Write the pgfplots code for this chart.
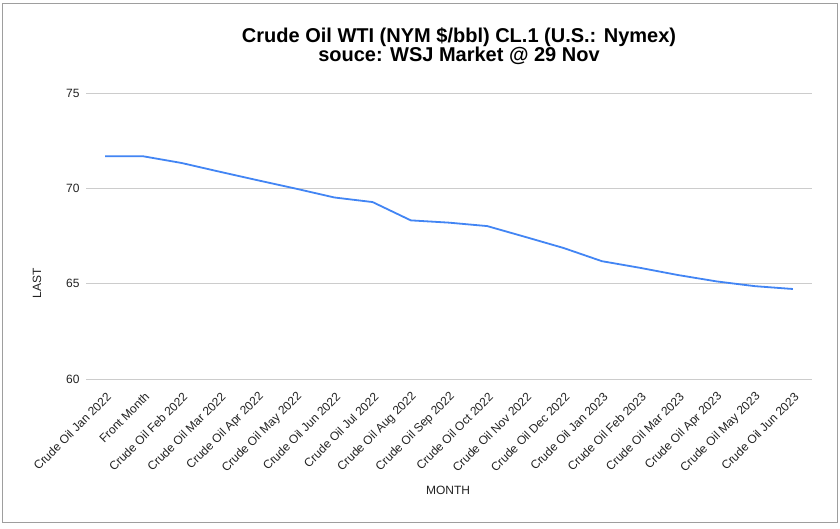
\documentclass[border=0pt]{standalone}
\usepackage{pgfplots}
\pgfplotsset{compat=1.18}
\usepackage{fontspec}
\setmainfont{Liberation Sans}
\definecolor{gblue}{HTML}{4285F4}
\definecolor{gridc}{HTML}{CCCCCC}
\definecolor{framec}{HTML}{9E9E9E}
\definecolor{labc}{HTML}{222222}
\begin{document}
\begin{tikzpicture}[x=1pt,y=1pt]
\path[fill=white] (0,0) rectangle (840,528);
\draw[color=framec, line width=1pt] (2.5,6) rectangle (837.5,524.5);
\begin{axis}[
  at={(86pt,149pt)}, anchor=south west,
  scale only axis, width=726pt, height=286pt,
  xmin=-0.5, xmax=18.5, ymin=60, ymax=75,
  ytick={60,65,70,75},
  xtick={0,...,18},
  xticklabels={Crude Oil Jan 2022, Front Month, Crude Oil Feb 2022, Crude Oil Mar 2022, Crude Oil Apr 2022, Crude Oil May 2022, Crude Oil Jun 2022, Crude Oil Jul 2022, Crude Oil Aug 2022, Crude Oil Sep 2022, Crude Oil Oct 2022, Crude Oil Nov 2022, Crude Oil Dec 2022, Crude Oil Jan 2023, Crude Oil Feb 2023, Crude Oil Mar 2023, Crude Oil Apr 2023, Crude Oil May 2023, Crude Oil Jun 2023},
  xticklabel style={xshift=4.5pt, yshift=-15pt, rotate=45, anchor=east, font=\fontsize{12}{14}\selectfont, text=labc, inner sep=1pt},
  yticklabel style={font=\fontsize{12}{14}\selectfont, text=labc, xshift=-3pt},
  /pgf/number format/assume math mode=true,
  ymajorgrids, grid style={gridc, line width=0.8pt},
  axis line style={draw=none}, major tick length=0pt, tick style={draw=none},
  clip=false,
]
\addplot[gblue, line width=1.8pt, line join=round] coordinates {
 (0,71.68) (1,71.68) (2,71.33) (3,70.87) (4,70.42) (5,69.98) (6,69.52) (7,69.28) (8,68.32) (9,68.20)
 (10,68.02) (11,67.45) (12,66.87) (13,66.18) (14,65.83) (15,65.45) (16,65.12) (17,64.87) (18,64.72)};
\end{axis}
\node[font=\bfseries\fontsize{20}{22}\selectfont, anchor=base] at (459,485) {Crude Oil WTI (NYM \$/bbl) CL.1 (U.S.: Nymex)};
\node[font=\bfseries\fontsize{20}{22}\selectfont, anchor=base] at (459,466) {souce: WSJ Market @ 29 Nov};
\node[font=\fontsize{12}{14}\selectfont, text=labc] at (448,38) {MONTH};
\node[font=\fontsize{12}{14}\selectfont, text=labc, rotate=90] at (37,245) {LAST};
\end{tikzpicture}
\end{document}
